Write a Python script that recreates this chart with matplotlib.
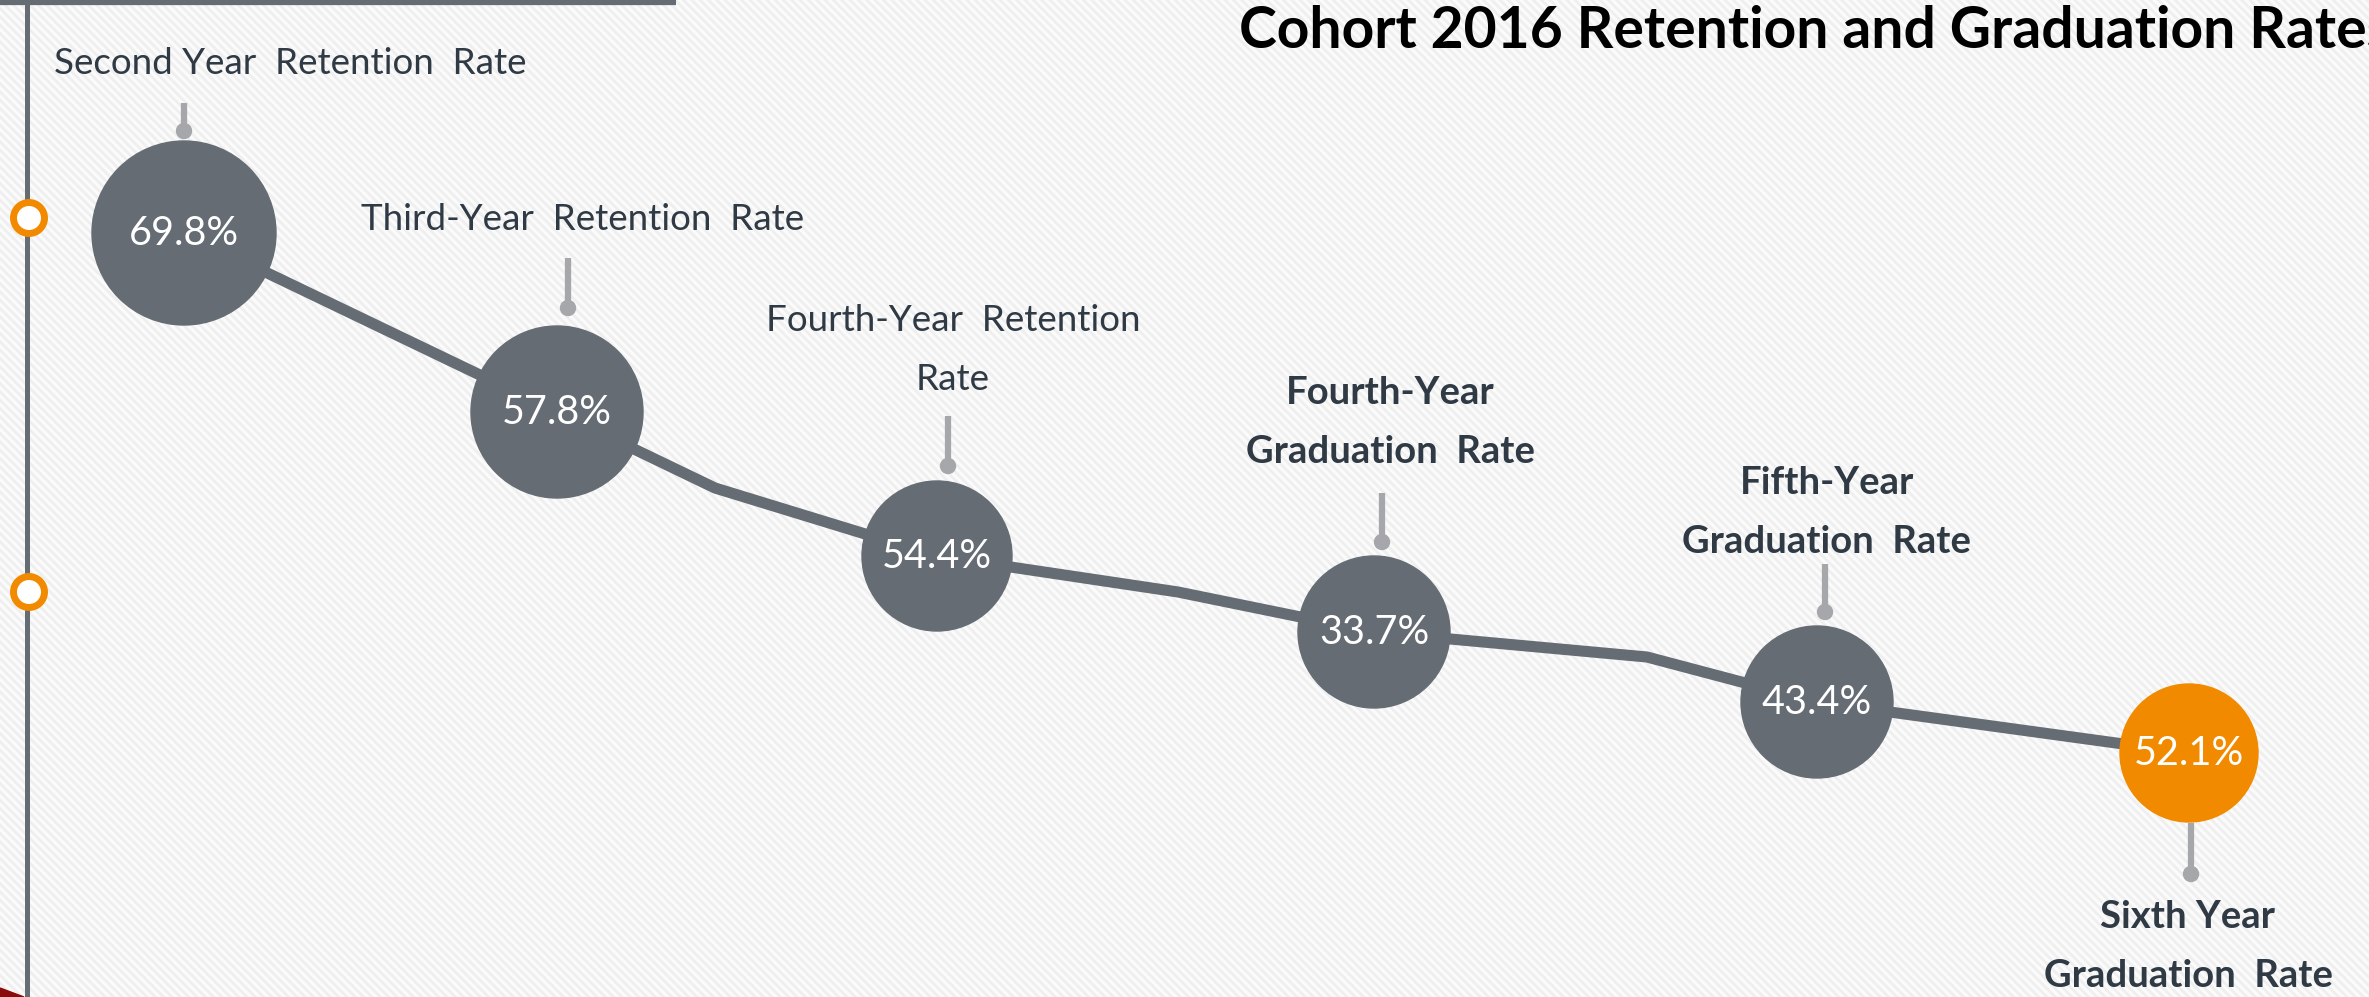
import matplotlib.pyplot as plt
from matplotlib.patches import Circle, Rectangle, Polygon

plt.rcParams['font.family'] = ['Lato', 'DejaVu Sans']
plt.rcParams['hatch.linewidth'] = 2.0

# chart data
title = 'Cohort 2016 Retention and Graduation Rates'
rates = [69.8, 57.8, 54.4, 33.7, 43.4, 52.1]
labels = [
    ['Second Year  Retention  Rate'],
    ['Third-Year  Retention  Rate'],
    ['Fourth-Year  Retention', 'Rate'],
    ['Fourth-Year', 'Graduation  Rate'],
    ['Fifth-Year', 'Graduation  Rate'],
    ['Sixth Year', 'Graduation  Rate'],
]
bold = [False, False, False, True, True, True]

# layout (pixel space of the picture)
cx = [184, 557, 937, 1374, 1817, 2189]
cy = [233, 412, 556, 632, 702, 753]
rad = [92, 86, 75, 76, 76, 69]
bends = {1: (715, 488), 2: (1178, 592), 3: (1647, 657)}
stem_x = [184, 568, 948, 1382, 1825, 2191]
stem_y = [(103, 131), (258, 308), (416, 466), (493, 542), (564, 612), (823, 874)]
label_x = [54, 583, 953, 1390, 1827, 2188]
label_y = [63, 219, 320, 393, 483, 917]
line_gap = 59

gray = '#656c74'
orange = '#f28a00'
stem_col = '#a6a7ab'
txt_col = '#2f3a45'

fig = plt.figure(figsize=(23.69, 9.97), dpi=100)
ax = fig.add_axes([0, 0, 1, 1])
ax.set_xlim(0, 2369)
ax.set_ylim(997, 0)
ax.axis('off')

# striped background
ax.add_patch(Rectangle((0, 0), 2369, 997, facecolor='#fbfbfb', edgecolor='#efefef',
                       linewidth=0, hatch='\\\\\\\\', zorder=0))

# frame on the left and top
ax.plot([26.5, 26.5], [0, 997], color=gray, lw=3.6, zorder=1, solid_capstyle='butt')
ax.plot([0, 676], [2.5, 2.5], color=gray, lw=4.5, zorder=1, solid_capstyle='butt')
for ry in [218, 592]:
    ax.add_patch(Circle((29, ry), 15.5, facecolor='white', edgecolor=orange, lw=5, zorder=2))
ax.add_patch(Polygon([(0, 988), (24, 997), (0, 997)], color='#8b0a0a', zorder=2))

# connecting path
px, py = [], []
for i in range(len(rates)):
    px.append(cx[i])
    py.append(cy[i])
    if i in bends:
        px.append(bends[i][0])
        py.append(bends[i][1])
ax.plot(px, py, color=gray, lw=8, zorder=2, solid_joinstyle='round')

for i, r in enumerate(rates):
    col = orange if i == len(rates) - 1 else gray
    ax.add_patch(Circle((cx[i], cy[i]), rad[i], color=col, zorder=3))
    ax.text(cx[i], cy[i], f'{r:.1f}%', color='white', fontsize=28.5,
            ha='center', va='center', zorder=4)
    # callout stem
    y0, y1 = stem_y[i]
    ax.plot([stem_x[i], stem_x[i]], [y0, y1], color=stem_col, lw=4.5, zorder=3,
            solid_capstyle='butt')
    ax.add_patch(Circle((stem_x[i], y1), 7.5, color=stem_col, zorder=3))
    # label text
    for j, line in enumerate(labels[i]):
        ax.text(label_x[i], label_y[i] + j * line_gap, line, color=txt_col,
                fontsize=27.5 if bold[i] else 26.5,
                fontweight='bold' if bold[i] else 'normal',
                ha='left' if i == 0 else 'center', va='center', zorder=4)

# title runs off the right edge as in the original slide
ax.text(1239, 31, title, fontsize=41, fontweight='bold', color='black',
        ha='left', va='center', zorder=4)

fig.savefig('out.png', dpi=100)
